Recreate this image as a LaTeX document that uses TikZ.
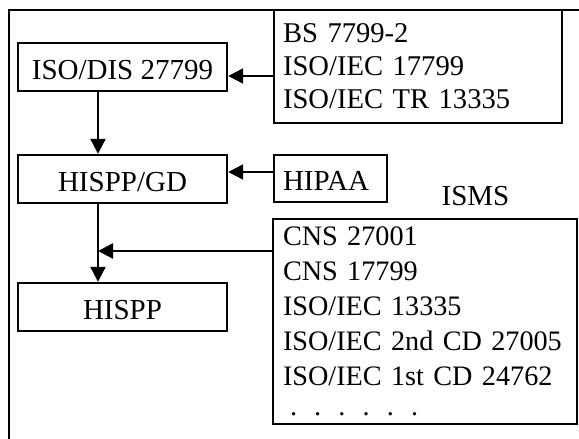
\documentclass[tikz,border=0pt]{standalone}
\usepackage{fontspec}
\setmainfont{Liberation Serif}
\usetikzlibrary{arrows.meta,calc}
\begin{document}
\begin{tikzpicture}[x=0.5pt,y=-0.5pt,
  box/.style={draw,line width=1.2pt,inner sep=0pt},
  one/.style={box,minimum width=104.5pt,minimum height=24pt,text height=12pt,text depth=0pt},
  arr/.style={line width=1.2pt,-{Triangle[length=7.5pt,width=7.5pt]}},
  font=\fontsize{14.5}{17}\selectfont]
\useasboundingbox (0,0) rectangle (579,439);
\draw[line width=0.8pt] (9,439) -- (9,10) -- (579,10);
\node[one] (iso) at (122.5,67) {ISO/DIS 27799};
\node[one] (gd) at (122.5,179) {HISPP/GD};
\node[one] (hispp) at (122.5,307) {HISPP};
\node[box,text width=47.5pt,inner xsep=4.5pt,minimum height=23.5pt,align=left,text height=12pt,text depth=0pt] (hipaa) at (330.5,178.5) {HIPAA};
\node[box,text width=135pt,inner xsep=4.5pt,minimum height=56.5pt,align=left,font=\fontsize{14.3}{16.5}\selectfont] (tr) at (418,66.5) {BS 7799-2\\ISO/IEC 17799\\ISO/IEC TR 13335};
\node[box,text width=142pt,inner xsep=5pt,minimum height=102.5pt,align=left,font=\fontsize{14.1}{17.5}\selectfont] (isms) at (425,321.5) {\mbox{CNS 27001}\\\mbox{CNS 17799}\\\mbox{ISO/IEC 13335}\\\mbox{ISO/IEC 2nd CD 27005}\\\mbox{ISO/IEC 1st CD 24762}\\[-2.5pt]\mbox{\hspace{3.5pt}.\hspace{8.6pt}.\hspace{8.6pt}.\hspace{8.6pt}.\hspace{8.6pt}.\hspace{8.6pt}.}};
\node[anchor=base] (lbl) at (475.5,205) {ISMS};
\coordinate (a1) at ([yshift=-4.75pt]tr.west);
\coordinate (a2) at ([yshift=3.25pt]hipaa.west);
\coordinate (a3) at ([yshift=35.25pt]isms.west);
\coordinate (v1) at ([xshift=-12.25pt]iso.south);
\coordinate (v2) at ([xshift=-12.25pt]gd.south);
\draw[arr] (a1) -- (a1 -| iso.east);
\draw[arr] (a2) -- (a2 -| gd.east);
\draw[arr] (v1) -- (v1 |- gd.north);
\draw[arr] (v2) -- (v2 |- hispp.north);
\draw[arr] (a3) -- (a3 -| v2);
\end{tikzpicture}
\end{document}
